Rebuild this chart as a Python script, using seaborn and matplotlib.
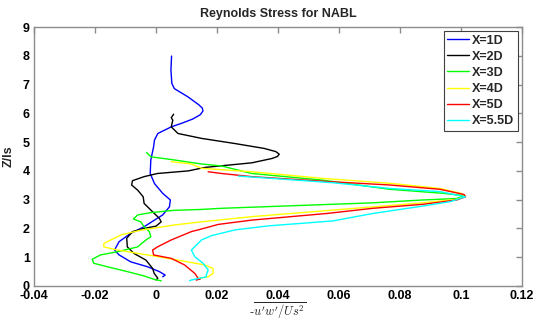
import matplotlib
matplotlib.use("Agg")
import matplotlib.pyplot as plt
import seaborn as sns
import pandas as pd
from matplotlib.lines import Line2D

# ---- data ----
labels = ["X=1D", "X=2D", "X=3D", "X=4D", "X=5D", "X=5.5D"]
colors = ["#0000ff", "#000000", "#00ff00", "#ffff00", "#ff0000", "#00ffff"]

z1 = [7.99, 7.50, 7.04, 6.86, 6.57, 6.30, 6.18, 6.08, 5.95, 5.80, 5.65, 5.53, 5.30, 5.07, 4.83,
      4.38, 3.91, 3.56, 3.22, 2.99, 2.75, 2.47, 2.29, 2.06, 1.83, 1.54, 1.25, 1.08, 0.84, 0.67,
      0.50, 0.38, 0.32]
x1 = [0.0051, 0.0049, 0.0052, 0.0060, 0.0105, 0.0140, 0.0152, 0.0154, 0.0145, 0.0120, 0.0083,
      0.0050, 0.0006, -0.0005, -0.0008, -0.0017, -0.0019, -0.0005, 0.0022, 0.0047, 0.0044,
      0.0022, -0.0005, -0.0039, -0.0083, -0.0121, -0.0136, -0.0121, -0.0083, -0.0028, 0.0011,
      0.0030, 0.0022]

z2 = [5.97, 5.85, 5.76, 5.53, 5.30, 5.13, 4.95, 4.78, 4.67, 4.58, 4.50, 4.43, 4.28, 4.20, 4.12,
      4.00, 3.91, 3.80, 3.66, 3.51, 3.33, 3.10, 2.87, 2.64, 2.35, 2.23, 2.08, 2.00, 1.89, 1.66,
      1.36, 1.13, 0.90, 0.61, 0.44, 0.27, 0.21]
x2 = [0.0058, 0.0050, 0.0055, 0.0050, 0.0072, 0.0149, 0.0259, 0.0355, 0.0393, 0.0404, 0.0398,
      0.0380, 0.0314, 0.0237, 0.0160, 0.0106, 0.0005, -0.0039, -0.0077, -0.0080, -0.0060,
      -0.0042, -0.0039, -0.0017, 0.0011, 0.0017, 0.0000, -0.0039, -0.0077, -0.0096, -0.0094,
      -0.0072, -0.0033, -0.0011, -0.0006, 0.0006, 0.0000]

z3 = [4.64, 4.49, 4.38, 4.24, 4.17, 3.91, 3.68, 3.36, 3.22, 3.14, 3.04, 2.99, 2.89, 2.84, 2.70,
      2.66, 2.63, 2.55, 2.47, 2.33, 2.23, 2.06, 1.89, 1.71, 1.60, 1.36, 1.19, 1.08, 0.93, 0.79,
      0.67, 0.50, 0.35, 0.23, 0.18]
x3 = [-0.0031, -0.0017, 0.0060, 0.0149, 0.0215, 0.0314, 0.0545, 0.0766, 0.0942, 0.1008, 0.0986,
      0.0876, 0.0711, 0.0579, 0.0215, 0.0149, 0.0060, -0.0017, -0.0060, -0.0074, -0.0050,
      -0.0039, -0.0022, -0.0017, -0.0033, -0.0060, -0.0127, -0.0182, -0.0209, -0.0204, -0.0160,
      -0.0094, -0.0039, -0.0006, 0.0017]

z4 = [4.32, 4.24, 4.09, 3.97, 3.74, 3.57, 3.39, 3.22, 3.13, 3.01, 2.89, 2.75, 2.62, 2.41, 2.23,
      2.12, 1.94, 1.77, 1.48, 1.36, 1.25, 1.08, 0.90, 0.73, 0.61, 0.44, 0.32, 0.27]
x4 = [0.0050, 0.0116, 0.0149, 0.0314, 0.0545, 0.0766, 0.0931, 0.1000, 0.1014, 0.0986, 0.0876,
      0.0711, 0.0560, 0.0314, 0.0149, 0.0060, -0.0050, -0.0116, -0.0171, -0.0171, -0.0127,
      -0.0028, 0.0072, 0.0160, 0.0187, 0.0187, 0.0171, 0.0143]

z5 = [3.97, 3.91, 3.80, 3.62, 3.51, 3.36, 3.18, 3.10, 2.99, 2.84, 2.70, 2.52, 2.29, 2.14, 1.98,
      1.89, 1.60, 1.36, 1.25, 1.08, 0.96, 0.73, 0.44, 0.27, 0.21, 0.24]
x5 = [0.0171, 0.0215, 0.0314, 0.0579, 0.0766, 0.0931, 0.1010, 0.1015, 0.0986, 0.0876, 0.0711,
      0.0560, 0.0314, 0.0204, 0.0149, 0.0116, 0.0050, 0.0005, -0.0011, -0.0008, 0.0050, 0.0094,
      0.0127, 0.0138, 0.0132, 0.0145]

z6 = [3.82, 3.59, 3.39, 3.28, 3.10, 2.93, 2.78, 2.52, 2.26, 2.09, 1.95, 1.75, 1.60, 1.48, 1.25,
      1.02, 0.79, 0.56, 0.38, 0.32, 0.21, 0.18]
x6 = [0.0270, 0.0579, 0.0766, 0.0931, 0.1014, 0.0964, 0.0876, 0.0711, 0.0579, 0.0369, 0.0259,
      0.0182, 0.0149, 0.0138, 0.0116, 0.0127, 0.0154, 0.0171, 0.0165, 0.0165, 0.0116, 0.0110]

xticks = [-0.04, -0.02, 0, 0.02, 0.04, 0.06, 0.08, 0.1, 0.12]
xticklabels = ["-0.04", "-0.02", "0", "0.02", "0.04", "0.06", "0.08", "0.1", "0.12"]
yticks = list(range(0, 10))

# ---- long-form table ----
frames = []
for lab, xs, zs in zip(labels, [x1, x2, x3, x4, x5, x6], [z1, z2, z3, z4, z5, z6]):
    frames.append(pd.DataFrame({"x": xs, "z": zs, "series": lab}))
df = pd.concat(frames, ignore_index=True)

sns.set_theme(style="white")
plt.rcParams["font.family"] = ["Liberation Sans", "DejaVu Sans"]
plt.rcParams["font.weight"] = "bold"
plt.rcParams["mathtext.fontset"] = "cm"

fig = plt.figure(figsize=(5.34, 3.20), dpi=100)
ax = fig.add_axes([34 / 534, 1 - 286 / 320, (522 - 34) / 534, (286 - 27) / 320])

sns.lineplot(data=df, x="x", y="z", hue="series", hue_order=labels, palette=colors,
             sort=False, estimator=None, linewidth=1.0, ax=ax, legend=False)

ax.set_xlim(-0.04, 0.12)
ax.set_ylim(0, 9)
ax.set_xticks(xticks)
ax.set_xticklabels(xticklabels)
ax.set_yticks(yticks)

gray = "#8c8c8c"
for s in ax.spines.values():
    s.set_visible(True)
    s.set_color(gray)
    s.set_linewidth(1.0)
ax.tick_params(direction="in", length=4, width=1, color=gray, labelcolor="black",
               labelsize=9, top=True, right=True, pad=3)
for t in ax.get_xticklabels() + ax.get_yticklabels():
    t.set_fontweight("bold")

ax.set_title("Reynolds Stress for NABL", fontsize=9, fontweight="bold", pad=7)
ax.set_ylabel("Z/ls", fontsize=9, fontweight="bold", labelpad=6)
ax.set_xlabel(r"-$\overline{u'w'/Us^2}$", fontsize=9, labelpad=-1)

handles = [Line2D([0], [0], color=c, lw=1.0) for c in colors]
leg = ax.legend(handles, labels, loc="upper right", fontsize=9, frameon=True, fancybox=False,
                framealpha=1, edgecolor="#404040", borderpad=0.3, labelspacing=0.33,
                handlelength=1.75, handletextpad=0.25, borderaxespad=0.3)
leg.get_frame().set_linewidth(0.8)
for t in leg.get_texts():
    t.set_fontweight("bold")

fig.savefig("out.png", dpi=100)
